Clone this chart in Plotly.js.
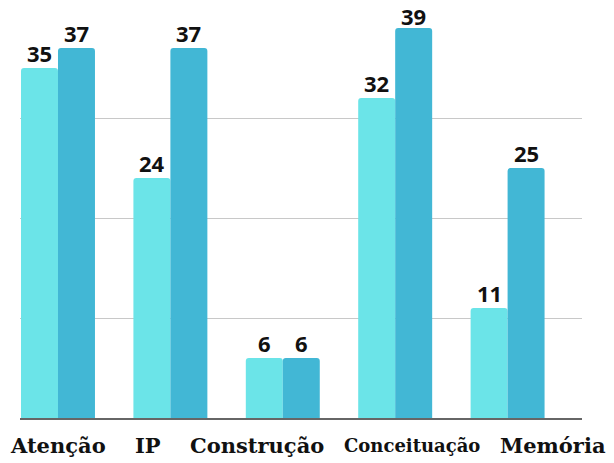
<!DOCTYPE html>
<html>
<head>
<meta charset="utf-8">
<script src="https://cdn.plot.ly/plotly-3.0.1.min.js"></script>
<style>html,body{margin:0;padding:0;background:#fff;}#chart{width:614px;height:463px;}</style>
</head>
<body>
<div id="chart"></div>
<script>
const categories = ["Atenção", "IP", "Construção", "Conceituação", "Memória"];
const seriesA = [35, 24, 6, 32, 11];
const seriesB = [37, 37, 6, 39, 25];
const labelShifts = [0, -22, -26, 17, 45];
const labelSizes = [21, 21, 21, 18, 21];

const valueFont = {family: "Noto Sans, DejaVu Sans, sans-serif", size: 22, color: "#111", weight: 700};

const traces = [
  {type: "bar", x: categories, y: seriesA, marker: {color: "#6be4e8"}, hoverinfo: "none"},
  {type: "bar", x: categories, y: seriesB, marker: {color: "#42b7d5"}, hoverinfo: "none"}
];

const annotations = categories.map((c, i) => ({
  x: c, xref: "x", y: 0, yref: "paper", yshift: -27, xshift: labelShifts[i],
  text: c, showarrow: false, xanchor: "center", yanchor: "middle",
  font: {family: "DejaVu Serif, serif", size: labelSizes[i], color: "#111", weight: 700}
}));

// labels near the top edge are pulled closer to the bar so they stay inside the page
const yMax = 40;
[seriesA, seriesB].forEach((s, k) => {
  s.forEach((v, i) => {
    annotations.push({
      x: categories[i], xref: "x", y: v, yref: "y", xshift: k === 0 ? -18.5 : 18.5,
      yshift: (yMax - v) < 2 ? -4 : -1,
      text: String(v), showarrow: false, xanchor: "center", yanchor: "bottom", borderpad: 0,
      font: valueFont
    });
  });
});

const layout = {
  width: 614, height: 463,
  margin: {l: 20, r: 32, t: 18, b: 45},
  paper_bgcolor: "#fff", plot_bgcolor: "#fff",
  barmode: "group", bargap: 0.342, bargroupgap: 0, barcornerradius: 3,
  showlegend: false,
  xaxis: {type: "category", range: [-0.338, 4.662], showticklabels: false, ticks: "",
          showline: true, linecolor: "#666", linewidth: 1.5, showgrid: false, fixedrange: true},
  yaxis: {range: [0, yMax], dtick: 10, showticklabels: false, ticks: "", showgrid: true,
          gridcolor: "#c8c8c8", gridwidth: 1, zeroline: false, showline: false, fixedrange: true},
  annotations: annotations
};

Plotly.newPlot("chart", traces, layout, {displayModeBar: false, staticPlot: true});
</script>
</body>
</html>
